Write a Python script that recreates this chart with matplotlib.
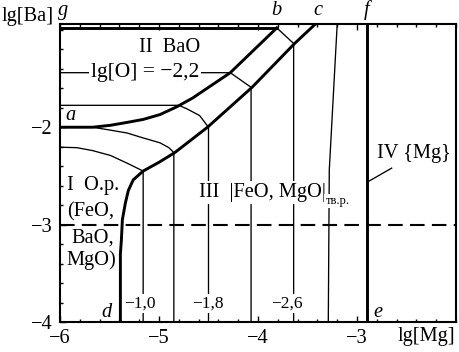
import numpy as np
import matplotlib.pyplot as plt
from matplotlib.ticker import MultipleLocator

plt.rcParams['font.family'] = ['Liberation Serif', 'DejaVu Serif']
plt.rcParams['font.size'] = 14.7

# boundary a-b (BaO saturation)
ab_x = [-6.0, -5.67, -5.49, -5.32, -5.16, -4.99, -4.82, -4.66, -4.28, -3.81]
ab_y = [-2.0, -2.0, -1.98, -1.95, -1.92, -1.87, -1.79, -1.70, -1.44, -0.98]
# boundary d-c
dc_x = [-5.39, -5.39, -5.38, -5.37, -5.34, -5.31, -5.26, -5.16, -5.0, -4.84, -4.51, -4.06, -3.63, -3.42]
dc_y = [-4.0, -3.3, -3.16, -2.95, -2.78, -2.65, -2.54, -2.45, -2.36, -2.26, -2.0, -1.59, -1.14, -0.94]
# line g-b and line f-e
gb_x = [-6.0, -3.81]
gb_y = [-0.98, -0.98]
fe_x = [-2.90, -2.90]
fe_y = [-4.0, -0.94]

# iso lines lg[O] = const
iso_10_x = [-6.0, -5.83, -5.67, -5.49, -5.32, -5.22, -5.16, -5.16]
iso_10_y = [-2.205, -2.21, -2.24, -2.29, -2.37, -2.42, -2.45, -4.0]
iso_14_x = [-6.0, -5.67, -5.49, -5.32, -5.16, -4.99, -4.90, -4.85, -4.85]
iso_14_y = [-2.0, -2.0, -2.03, -2.06, -2.11, -2.16, -2.21, -2.26, -4.0]
iso_18_x = [-6.0, -4.80, -4.72, -4.59, -4.50, -4.50]
iso_18_y = [-1.775, -1.775, -1.81, -1.88, -2.0, -4.0]
iso_22_x = [-6.0, -4.28, -4.07, -4.07]
iso_22_y = [-1.44, -1.44, -1.59, -4.0]
iso_26_x = [-3.81, -3.64, -3.64]
iso_26_y = [-0.98, -1.14, -4.0]
iso_30_x = [-3.20, -3.28, -3.29]
iso_30_y = [-0.94, -2.44, -4.0]

iso_labels = ['\u22121,0', '\u22121,8', '\u22122,6']
iso_label_x = [-5.19, -4.51, -3.71]

fig = plt.figure(figsize=(4.59, 3.52), dpi=100)
ax = fig.add_axes([60/459, 30/352, 396/459, 298/352])

thin = dict(color='black', lw=0.95)
for xs, ys in [(iso_10_x, iso_10_y), (iso_14_x, iso_14_y), (iso_18_x, iso_18_y),
               (iso_22_x, iso_22_y), (iso_26_x, iso_26_y), (iso_30_x, iso_30_y)]:
    ax.plot(xs, ys, **thin)

ax.plot(ab_x, ab_y, color='black', lw=2.1, solid_joinstyle='round')
ax.plot(dc_x, dc_y, color='black', lw=2.1, solid_joinstyle='round')
ax.plot(gb_x, gb_y, color='black', lw=2.1)
ax.plot(fe_x, fe_y, color='black', lw=2.1)
ax.axhline(-3, color='black', lw=1.5, linestyle=(0, (7, 3.5)))

ax.set_xlim(-6, -2)
ax.set_ylim(-4, -0.94)
ax.set_xticks([-6, -5, -4, -3])
ax.set_yticks([-4, -3, -2])
ax.xaxis.set_minor_locator(MultipleLocator(0.2))
ax.yaxis.set_minor_locator(MultipleLocator(0.2))
ax.tick_params(which='both', direction='in', top=True, right=False, width=1)
ax.tick_params(which='major', length=4, pad=5)
ax.tick_params(which='minor', length=2.5)
for s in ax.spines.values():
    s.set_linewidth(1.5)

wb = dict(facecolor='white', edgecolor='none', boxstyle='square,pad=0.1')

# labels on the iso lines
for lab, x in zip(iso_labels, iso_label_x):
    ax.text(x, -3.81, lab, fontsize=12.5, ha='center', va='center', bbox=wb, zorder=5)
ax.text(-5.14, -1.44, 'lg[O] = \u22122,2', fontsize=15.5, ha='center', va='center',
        bbox=wb, zorder=5)

# region labels
ax.text(-4.89, -1.18, 'II  BaO', ha='center', va='center')
ax.text(-5.93, -2.60, 'I  O.p.', ha='left', va='center')
ax.text(-5.93, -2.87, '(FeO,', ha='left', va='center')
ax.text(-5.88, -3.14, 'BaO,', ha='left', va='center')
ax.text(-5.93, -3.36, 'MgO)', ha='left', va='center')
t3 = ax.text(-4.60, -2.67, 'III  |FeO, MgO|', ha='left', va='center', bbox=wb, zorder=5)
ax.annotate('\u0442\u0432.\u0440.', xy=(1.0, 0.05), xycoords=t3, fontsize=9,
            ha='left', va='center', bbox=wb, zorder=5)
ax.text(-2.80, -2.27, 'IV {Mg}', ha='left', va='center')
ax.plot([-2.65, -2.89], [-2.42, -2.56], color='black', lw=0.95)

# point letters
ax.text(-5.95, -1.88, 'a', style='italic', ha='left', va='center')
ax.text(-5.53, -3.9, 'd', style='italic', ha='center', va='center')
ax.text(-2.83, -3.9, 'e', style='italic', ha='left', va='center')
for x, lab in [(-5.97, 'g'), (-3.81, 'b'), (-3.40, 'c'), (-2.90, 'f')]:
    ax.text(x, -0.80, lab, style='italic', ha='center', va='center', clip_on=False)

fig.text(2/459, 1 - 17/352, 'lg[Ba]', ha='left', va='center')
fig.text(455/459, 1 - 337/352, 'lg[Mg]', ha='right', va='center')

fig.savefig('out.png', dpi=100)
